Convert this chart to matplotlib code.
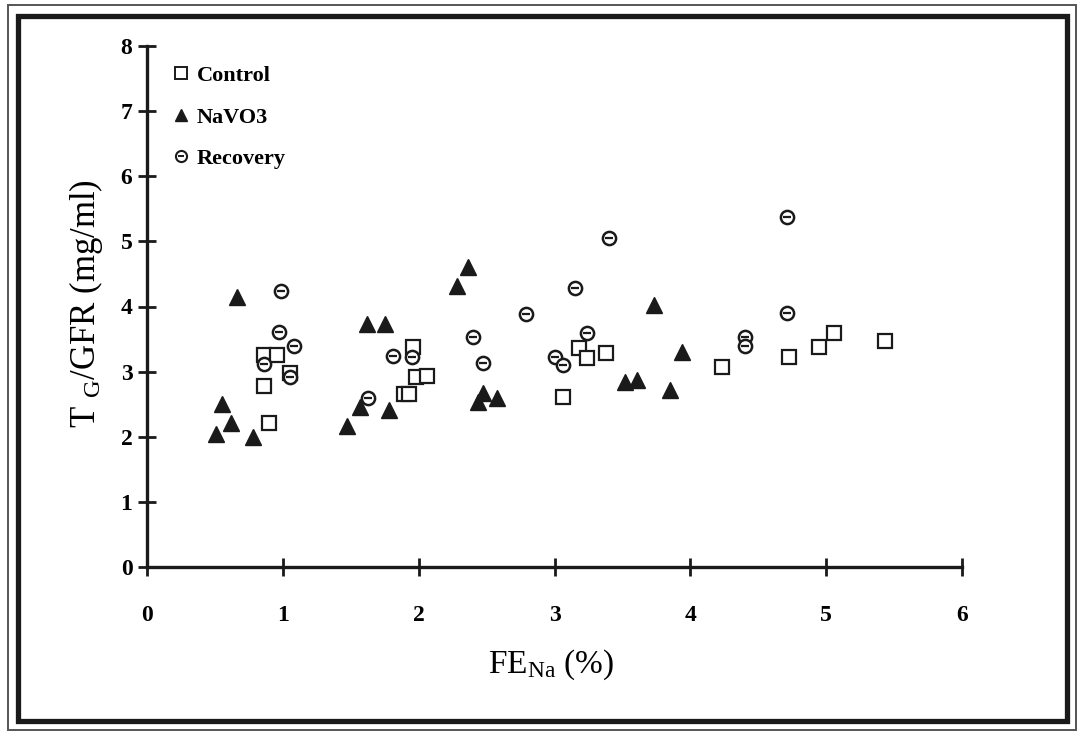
import matplotlib
matplotlib.use("Agg")
import matplotlib.pyplot as plt
from matplotlib.patches import Rectangle
from matplotlib.lines import Line2D
from matplotlib.legend_handler import HandlerTuple

plt.rcParams['font.family'] = ['Liberation Serif', 'DejaVu Serif']
plt.rcParams['mathtext.fontset'] = 'custom'
plt.rcParams['mathtext.rm'] = 'Liberation Serif'
plt.rcParams['mathtext.it'] = 'Liberation Serif:italic'
plt.rcParams['mathtext.bf'] = 'Liberation Serif:bold'

# Data
control_x = [0.86, 0.96, 0.86, 0.90, 1.05, 1.96, 1.98, 2.06, 1.89, 1.93,
             3.18, 3.24, 3.38, 3.06, 4.23, 4.73, 4.95, 5.06, 5.43]
control_y = [3.26, 3.26, 2.78, 2.21, 2.98, 3.38, 2.92, 2.93, 2.66, 2.66,
             3.36, 3.21, 3.29, 2.61, 3.07, 3.23, 3.38, 3.59, 3.47]

navo3_x = [0.66, 0.55, 0.62, 0.51, 0.78, 1.47, 1.57, 1.62, 1.75, 1.78,
           2.28, 2.36, 2.44, 2.47, 2.58, 3.52, 3.61, 3.73, 3.85, 3.94]
navo3_y = [4.15, 2.50, 2.21, 2.04, 2.00, 2.17, 2.46, 3.73, 3.73, 2.41,
           4.32, 4.61, 2.53, 2.67, 2.60, 2.84, 2.87, 4.02, 2.72, 3.30]

recovery_x = [0.99, 0.97, 1.08, 0.86, 1.05, 1.63, 1.81, 1.95, 2.40, 2.47,
              2.79, 3.00, 3.06, 3.15, 3.24, 3.40, 4.40, 4.40, 4.71, 4.71]
recovery_y = [4.24, 3.61, 3.39, 3.12, 2.92, 2.60, 3.24, 3.23, 3.53, 3.13,
              3.89, 3.23, 3.10, 4.29, 3.59, 5.05, 3.53, 3.39, 3.90, 5.38]

x_ticks = [0, 1, 2, 3, 4, 5, 6]
y_ticks = [0, 1, 2, 3, 4, 5, 6, 7, 8]
series_labels = ['Control', 'NaVO3', 'Recovery']

fig = plt.figure(figsize=(10.79, 7.34), dpi=100)
W, H = 1079, 734

def px_rect(x0, y0, x1, y1, lw, color):
    fig.patches.append(Rectangle((x0 / W, 1 - y1 / H), (x1 - x0) / W, (y1 - y0) / H,
                                 transform=fig.transFigure, fill=False,
                                 lw=lw, edgecolor=color, zorder=0))

px_rect(8, 5, 1076, 730, 1.4, '#555555')
px_rect(18, 16, 1067, 721, 3.8, '#1a1a1a')

ax = fig.add_axes([147 / W, 1 - 567 / H, 815 / W, 521 / H])
ax.set_xlim(0, 6)
ax.set_ylim(0, 8)
ax.set_facecolor('none')

for s in ['top', 'right']:
    ax.spines[s].set_visible(False)
for s in ['left', 'bottom']:
    ax.spines[s].set_linewidth(2.4)
    ax.spines[s].set_color('#1a1a1a')
ax.spines['left'].set_bounds(0, 8)
ax.spines['bottom'].set_bounds(0, 6)

ax.set_xticks(x_ticks)
ax.set_yticks(y_ticks)
ax.set_xticklabels([str(v) for v in x_ticks], fontsize=17, fontweight='bold')
ax.set_yticklabels([str(v) for v in y_ticks], fontsize=17, fontweight='bold')
ax.tick_params(axis='both', direction='inout', length=13, width=2.0, color='#1a1a1a')
ax.tick_params(axis='x', pad=21)
ax.tick_params(axis='y', pad=4)

ms = 9.5
ax.plot(control_x, control_y, linestyle='none', marker='s', markersize=ms,
        markerfacecolor='white', markeredgecolor='#1a1a1a', markeredgewidth=1.6, zorder=3)
ax.plot(navo3_x, navo3_y, linestyle='none', marker='^', markersize=ms + 2,
        markerfacecolor='#1a1a1a', markeredgecolor='#1a1a1a', markeredgewidth=1.0, zorder=3)
ax.plot(recovery_x, recovery_y, linestyle='none', marker='o', markersize=ms,
        markerfacecolor='white', markeredgecolor='#1a1a1a', markeredgewidth=1.8, zorder=4)
ax.plot(recovery_x, recovery_y, linestyle='none', marker='_', markersize=ms * 0.55,
        markeredgecolor='#1a1a1a', markeredgewidth=1.6, zorder=5)

h_c = Line2D([], [], linestyle='none', marker='s', markersize=8,
             markerfacecolor='white', markeredgecolor='#1a1a1a', markeredgewidth=1.4)
h_n = Line2D([], [], linestyle='none', marker='^', markersize=9,
             markerfacecolor='#1a1a1a', markeredgecolor='#1a1a1a')
h_r1 = Line2D([], [], linestyle='none', marker='o', markersize=8,
              markerfacecolor='white', markeredgecolor='#1a1a1a', markeredgewidth=1.5)
h_r2 = Line2D([], [], linestyle='none', marker='_', markersize=4.5,
              markeredgecolor='#1a1a1a', markeredgewidth=1.4)
leg = ax.legend([h_c, h_n, (h_r1, h_r2)], series_labels,
                handler_map={tuple: HandlerTuple(ndivide=1, pad=0)},
                loc='upper left', bbox_to_anchor=(0.02, 0.98), frameon=False,
                prop={'family': 'Liberation Serif', 'weight': 'bold', 'size': 16},
                handlelength=0.8, handletextpad=0.3, labelspacing=0.95, borderaxespad=0)

fig.text(551 / W, 1 - 665 / H, r'FE$_{\mathregular{Na}}$ (%)', fontsize=24,
         ha='center', va='center')
fig.text(86 / W, 1 - 304 / H, r'T $_{\mathregular{G}}$/GFR (mg/ml)', fontsize=25,
         ha='center', va='center', rotation=90)

fig.savefig('out.png', dpi=100, facecolor='white')
